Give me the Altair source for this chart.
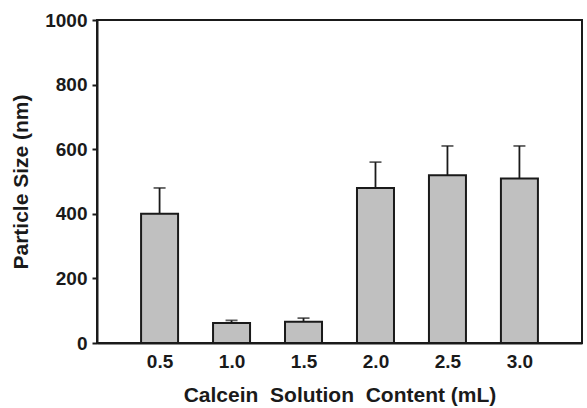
import altair as alt
import pandas as pd

# Calcein solution volume (mL), mean particle size (nm) and upper error (nm)
content_ml = [0.5, 1.0, 1.5, 2.0, 2.5, 3.0]
size_nm = [400, 62, 66, 480, 519, 509]
err_nm = [80, 8, 11, 80, 91, 101]

df = pd.DataFrame({"content": content_ml, "size": size_nm, "err": err_nm})
df["upper"] = df["size"] + df["err"]

FONT = "Liberation Sans"
INK = "#1a1a1a"

x = alt.X(
    "content:Q",
    scale=alt.Scale(domain=[0.1, 3.4], nice=False, zero=False),
    axis=alt.Axis(
        values=content_ml, format=".1f", ticks=False, grid=False,
        title="Calcein\u00a0 Solution\u00a0 Content (mL)",
        labelPadding=9, titlePadding=13,
    ),
)
y = alt.Y(
    "size:Q",
    scale=alt.Scale(domain=[0, 1000], nice=False),
    axis=alt.Axis(
        values=[0, 200, 400, 600, 800, 1000], format="d", grid=False, tickSize=5,
        title="Particle Size (nm)", labelPadding=5, titlePadding=13,
    ),
)

bars = alt.Chart(df).mark_bar(
    size=37, color="#c0c0c0", stroke=INK, strokeWidth=2
).encode(x=x, y=y)

stems = alt.Chart(df).mark_rule(color=INK, strokeWidth=1.8).encode(
    x="content:Q", y="size:Q", y2="upper:Q"
)

caps = alt.Chart(df).mark_tick(
    orient="horizontal", size=12, thickness=1.8, color=INK
).encode(x="content:Q", y="upper:Q")

chart = (
    alt.layer(stems, caps, bars)
    .properties(
        width=485, height=323,
        autosize=alt.AutoSizeParams(type="none"),
        padding={"left": 97, "top": 20, "right": 5, "bottom": 65},
        background="white",
    )
    .configure_view(stroke=INK, strokeWidth=2)
    .configure_axis(
        domainColor=INK, domainWidth=2, tickColor=INK, tickWidth=2,
        labelFont=FONT, labelFontSize=19, labelFontWeight="bold", labelColor=INK,
        titleFont=FONT, titleFontSize=21, titleFontWeight="bold", titleColor=INK,
    )
)

chart.save("out.html", embed_options={"renderer": "svg", "actions": False})
